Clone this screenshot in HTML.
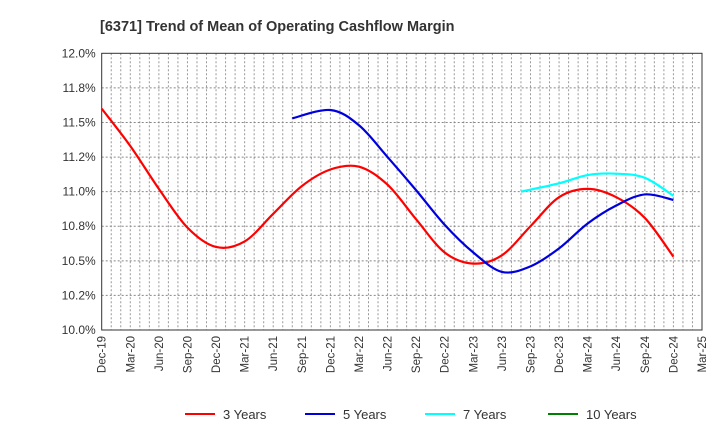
<!DOCTYPE html>
<html><head><meta charset="utf-8"><style>
body{margin:0;background:#fff;}
svg text{font-family:"Liberation Sans",sans-serif;}
</style></head><body>
<svg id="c" width="720" height="440" xmlns="http://www.w3.org/2000/svg">
<text x="100" y="31" font-size="14.5" font-weight="bold" fill="#333">[6371]  Trend of Mean of Operating Cashflow Margin</text>
</svg>
<script>
const xLabels=["Dec-19","Mar-20","Jun-20","Sep-20","Dec-20","Mar-21","Jun-21","Sep-21","Dec-21","Mar-22","Jun-22","Sep-22","Dec-22","Mar-23","Jun-23","Sep-23","Dec-23","Mar-24","Jun-24","Sep-24","Dec-24","Mar-25"];
const yTicks=[10,10.25,10.5,10.75,11,11.25,11.5,11.75,12];
const yTickLabels=["10.0%","10.2%","10.5%","10.8%","11.0%","11.2%","11.5%","11.8%","12.0%"];
const months3=[0,3,6,9,12,15,18,21,24,27,30,33,36,39,42,45,48,51,54,57,60];
const values3=[11.60,11.33,11.02,10.74,10.60,10.64,10.84,11.04,11.16,11.18,11.05,10.80,10.56,10.48,10.54,10.75,10.96,11.02,10.96,10.81,10.53];
const months5=[20,24,27,30,33,36,39,42,45,48,51,54,57,60];
const values5=[11.53,11.59,11.48,11.25,11.01,10.76,10.56,10.42,10.46,10.59,10.77,10.90,10.98,10.94];
const months7=[44,48,51,54,57,60];
const values7=[11.00,11.06,11.12,11.13,11.10,10.97];
const months10=[];
const values10=[];
const L=101.7,R=702,T=53.3,B=330,NM=63;
const X=m=>L+m*(R-L)/NM;
const Y=v=>B-(v-10)/2*(B-T);
const svg=document.getElementById('c');
const NS="http://www.w3.org/2000/svg";
function mk(t,a,p){const e=document.createElementNS(NS,t);for(const k in a)e.setAttribute(k,a[k]);(p||svg).appendChild(e);return e;}
// grid
for(let m=1;m<NM;m++){const g=mk('line',{x1:X(m),x2:X(m),y1:T,y2:B,stroke:'#999','stroke-dasharray':'2,2','stroke-width':1});

}
yTicks.forEach((v,i)=>{
 if(i>0&&i<yTicks.length-1){const g=mk('line',{x1:L,x2:R,y1:Y(v),y2:Y(v),stroke:'#888','stroke-dasharray':'2,2','stroke-width':1});
 
 }
 const t=mk('text',{x:L-6,y:Y(v)+4,'font-size':12,'text-anchor':'end',fill:'#333'});t.textContent=yTickLabels[i];
 
 
});
xLabels.forEach((s,i)=>{const x=X(i*3);
 const t=mk('text',{x:0,y:0,'font-size':11.5,'text-anchor':'end',fill:'#333',transform:`translate(${x+4},${B+6}) rotate(-90)`});t.textContent=s;
 
 
});
const fr=mk('rect',{x:L,y:T,width:R-L,height:B-T,fill:'none',stroke:'#333','stroke-width':1});


function path(ms,vs){const p=ms.map((m,i)=>[X(m),Y(vs[i])]);if(p.length<2)return'';let d=`M${p[0][0]},${p[0][1]}`;
 for(let i=0;i<p.length-1;i++){const p0=p[i-1]||p[i],p1=p[i],p2=p[i+1],p3=p[i+2]||p2;
 d+=` C${p1[0]+(p2[0]-p0[0])/6},${p1[1]+(p2[1]-p0[1])/6} ${p2[0]-(p3[0]-p1[0])/6},${p2[1]-(p3[1]-p1[1])/6} ${p2[0]},${p2[1]}`;}return d;}
const series=[[months3,values3,'#ff0000','3 Years','series-3-years'],[months5,values5,'#0000dd','5 Years','series-5-years'],[months7,values7,'#00ffff','7 Years','series-7-years'],[months10,values10,'#008000','10 Years','series-10-years']];
series.forEach(s=>{const d=path(s[0],s[1]);if(d){const p=mk('path',{d:d,fill:'none',stroke:s[2],'stroke-width':2.2});
 
 }});
const lx=[185,305,425,548];
series.forEach((s,i)=>{const g=mk('g',{});
 
 
 mk('line',{x1:lx[i],x2:lx[i]+30,y1:414,y2:414,stroke:s[2],'stroke-width':2},g);
 const t=mk('text',{x:lx[i]+38,y:419,'font-size':13,fill:'#333'},g);t.textContent=s[3];});
</script>
</body></html>
